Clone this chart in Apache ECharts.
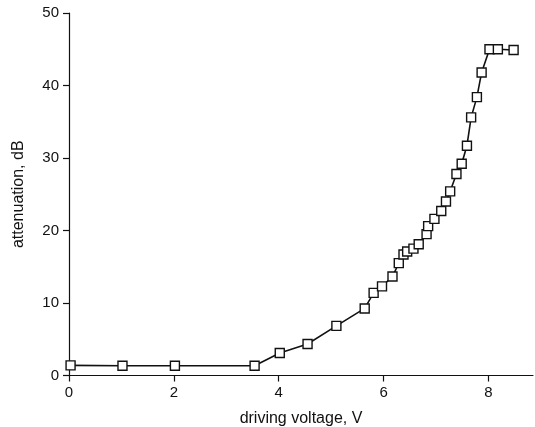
<!DOCTYPE html>
<html>
<head>
<meta charset="utf-8">
<script src="https://cdn.jsdelivr.net/npm/echarts@6/dist/echarts.min.js"></script>
<style>
html,body{margin:0;padding:0;background:#fff;}
#c{width:535px;height:427px;}
</style>
</head>
<body>
<div id="c"></div>
<script>
var voltage = [0.03, 1.02, 2.02, 3.54, 4.02, 4.55, 5.10, 5.64, 5.81, 5.97, 6.17, 6.29, 6.38, 6.45, 6.57, 6.67, 6.82, 6.85, 6.97, 7.10, 7.19, 7.27, 7.39, 7.49, 7.59, 7.67, 7.78, 7.87, 8.02, 8.18, 8.48];
var attenuation = [1.4, 1.35, 1.35, 1.35, 3.1, 4.35, 6.85, 9.25, 11.4, 12.3, 13.65, 15.5, 16.7, 17.1, 17.5, 18.1, 19.5, 20.6, 21.6, 22.7, 24.0, 25.4, 27.8, 29.2, 31.7, 35.6, 38.4, 41.8, 45.0, 45.0, 44.9];
var xTicks = [0, 2, 4, 6, 8];
var yTicks = [0, 10, 20, 30, 40, 50];

var pts = voltage.map(function (v, i) { return [v, attenuation[i]]; });
var font = 'Liberation Sans, Arial, sans-serif';
var chart = echarts.init(document.getElementById('c'));
chart.setOption({
  animation: false,
  backgroundColor: '#fff',
  grid: { left: 69, right: 2, top: 13, bottom: 51.5, containLabel: false, outerBoundsMode: 'none' },
  xAxis: {
    type: 'value', min: 0, max: 8.85, interval: 2,
    name: 'driving voltage, V', nameLocation: 'middle', nameGap: 35,
    nameTextStyle: { fontFamily: font, fontSize: 16, color: '#111' },
    axisLine: { show: true, onZero: false, lineStyle: { color: '#111', width: 1.2 } },
    axisTick: { show: true, inside: false, length: 6, lineStyle: { color: '#111', width: 1.2 } },
    axisLabel: { fontFamily: font, fontSize: 15, color: '#111', margin: 10,
      formatter: function (v) { return xTicks.indexOf(v) >= 0 ? String(v) : ''; },
      showMaxLabel: false },
    splitLine: { show: false }
  },
  yAxis: {
    type: 'value', min: 0, max: 50, interval: 10,
    name: 'attenuation, dB', nameLocation: 'middle', nameGap: 42,
    nameTextStyle: { fontFamily: font, fontSize: 16, color: '#111' },
    axisLine: { show: true, onZero: false, lineStyle: { color: '#111', width: 1.2 } },
    axisTick: { show: true, inside: false, length: 6, lineStyle: { color: '#111', width: 1.2 } },
    axisLabel: { fontFamily: font, fontSize: 15, color: '#111', margin: 10,
      formatter: function (v) { return yTicks.indexOf(v) >= 0 ? String(v) : ''; } },
    splitLine: { show: false }
  },
  series: [{
    type: 'line',
    data: pts,
    symbol: 'rect',
    symbolSize: 9,
    showAllSymbol: true,
    lineStyle: { color: '#111', width: 1.6 },
    itemStyle: { color: '#fff', borderColor: '#111', borderWidth: 1.4 }
  }]
});
</script>
</body>
</html>
